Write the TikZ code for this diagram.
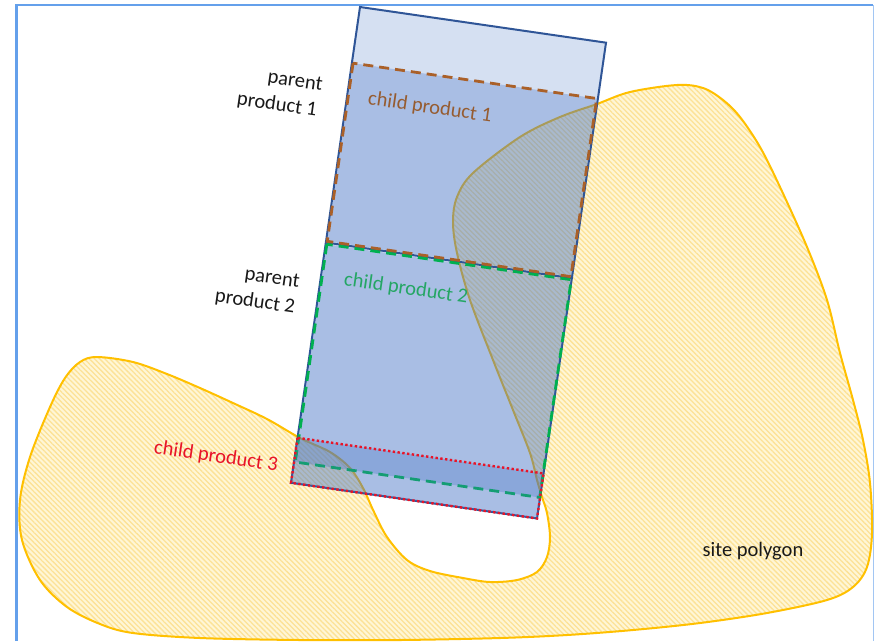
\documentclass[tikz,border=0pt]{standalone}
\usepackage{fontspec}
\setmainfont{Carlito}
\usetikzlibrary{patterns.meta}

\definecolor{framecol}{RGB}{100,160,235}
\definecolor{siteedge}{RGB}{255,192,0}
\definecolor{sitebase}{RGB}{255,246,214}
\definecolor{sitehatch}{RGB}{252,226,150}
\definecolor{prodblue}{RGB}{68,114,196}
\definecolor{parentedge}{RGB}{47,85,151}
\definecolor{childone}{RGB}{170,96,40}
\definecolor{childonetext}{RGB}{150,92,48}
\definecolor{childtwo}{RGB}{0,176,80}
\definecolor{childtwotext}{RGB}{36,166,100}
\definecolor{childthree}{RGB}{232,20,40}
\definecolor{labeltext}{RGB}{25,25,25}

\tikzset{
  lbl/.style={font=\fontsize{20.5}{24.5}\selectfont, inner sep=0pt, text=labeltext},
  tilted/.style={rotate=-8.25},
  parentfill/.style={fill=prodblue, fill opacity=0.22},
  childfill/.style={fill=prodblue, fill opacity=0.30},
  parentline/.style={draw=parentedge, line width=2pt, line join=miter},
  childoneline/.style={draw=childone, line width=2.8pt, dash pattern=on 10pt off 6pt},
  childtwoline/.style={draw=childtwo, line width=2.8pt, dash pattern=on 10pt off 6pt},
  childthreeline/.style={draw=childthree, line width=2.4pt, dash pattern=on 2.4pt off 2.4pt},
  siteline/.style={draw=siteedge, line width=2pt},
  sitepath/.style={insert path={
    plot[smooth cycle, tension=0.55] coordinates {
    (597,104) (630,92) (677,85) (703,88) (723,100) (740,117) (760,147)
    (780,187) (807,247) (827,300) (840,353) (853,400) (863,440) (870,483)
    (872,533) (867,567) (853,587) (827,600) (767,613) (700,623) (633,630)
    (567,635) (500,638) (400,640) (300,640) (200,638) (133,633) (100,624)
    (67,607) (40,580) (22,540) (20,500) (30,457) (50,407) (65,378) (80,362)
    (97,357) (133,362) (167,374) (200,388) (233,403) (267,419) (300,438)
    (330,452) (350,468) (363,488) (374,512) (387,537) (407,560) (430,571)
    (463,578) (490,582) (517,580) (537,572) (547,557) (550,537) (547,513)
    (542,497) (537,480) (530,453) (513,410) (493,360) (470,300) (457,253)
    (453,222) (457,197) (473,173) (520,137) (560,117)}}},
}

\begin{document}
\begin{tikzpicture}[x=1pt, y=-1pt]
\useasboundingbox (0,0) rectangle (874,641);
\fill[white] (0,0) rectangle (874,641);

% slide frame
\draw[framecol, line width=2.5pt] (16.5,641) -- (16.5,5) -- (873,5);
\draw[framecol!60, line width=1pt] (873,5) -- (873,641);

% site polygon: hatched fill with gold outline
\path[fill=sitebase, sitepath];
\path[pattern={Lines[angle=-45, distance=3.6pt, line width=1.3pt]},
      pattern color=sitehatch, sitepath];
\draw[siteline, sitepath];

% products, in the frame of the tilted parent strip
\begin{scope}[shift={(360,7)}, rotate=-8.25]
  \coordinate (pTL) at (0,0);
  \coordinate (pBR) at (248.6,480.8);
  \coordinate (divL) at (0,238);
  \coordinate (divR) at (248.6,238);

  % parent products
  \path[parentfill] (pTL) rectangle (pBR);
  \draw[parentline] (pTL) rectangle (pBR);
  \draw[parentline] (divL) -- (divR);

  % child products
  \path[childfill] (1.2,56.6) rectangle (247.4,236.6);
  \path[childfill] (1.2,239.6) rectangle (248.2,459.6);
  \draw[childtwoline] (1.2,239.6) rectangle (248.2,459.6);
  \path[childfill] (0,435.3) rectangle (248.6,480.8);
  \draw[childthreeline] (0,435.3) rectangle (248.6,480.8);
  \draw[childoneline] (1.2,56.6) rectangle (247.4,236.6);
\end{scope}

% labels
\node[lbl, tilted] (pp1a) at (295,82) {parent};
\node[lbl, tilted] (pp1b) at (277,105) {product 1};
\node[lbl, tilted] (pp2a) at (272,279) {parent};
\node[lbl, tilted] (pp2b) at (255,302) {product 2};
\node[lbl, tilted, text=childonetext] (cp1) at (430,108) {child product 1};
\node[lbl, tilted, text=childtwotext] (cp2) at (406,289) {child product 2};
\node[lbl, tilted, text=childthree] (cp3) at (216,457) {child product 3};
\node[lbl] (site) at (753,551) {site polygon};
\end{tikzpicture}
\end{document}
